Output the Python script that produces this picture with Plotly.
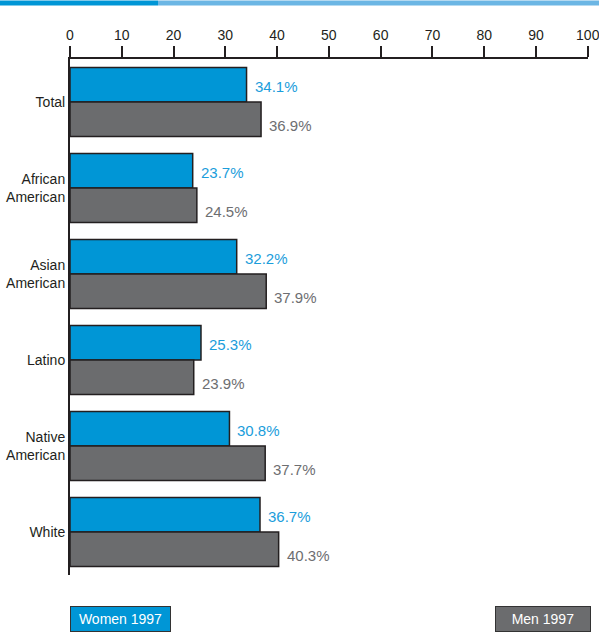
import plotly.graph_objects as go

categories = ["Total", "African<br>American", "Asian<br>American", "Latino", "Native<br>American", "White"]
women_1997 = [34.1, 23.7, 32.2, 25.3, 30.8, 36.7]
men_1997 = [36.9, 24.5, 37.9, 23.9, 37.7, 40.3]
x_ticks = [0, 10, 20, 30, 40, 50, 60, 70, 80, 90, 100]

BLUE = "#0096d6"
GRAY = "#6b6c6e"
BLUE_TXT = "#1b9ddb"
GRAY_TXT = "#6d6e71"
DARK = "#231f20"
FONT = "Liberation Sans Narrow, Arial Narrow, Liberation Sans, Arial, sans-serif"

W, H = 599, 635
ML, MR, MT, MB = 70, 11, 58.5, 59.5
PW = W - ML - MR
PH = H - MT - MB


def px_x(p):
    return (p - ML) / PW


def px_y(p):
    return (H - MB - p) / PH


fig = go.Figure()
fig.add_trace(go.Bar(y=categories, x=women_1997, orientation="h", name="Women 1997",
                     marker=dict(color=BLUE, line=dict(color=DARK, width=1.5))))
fig.add_trace(go.Bar(y=categories, x=men_1997, orientation="h", name="Men 1997",
                     marker=dict(color=GRAY, line=dict(color=DARK, width=1.5))))

annotations = []
for i, (w, m) in enumerate(zip(women_1997, men_1997)):
    annotations.append(dict(x=w, y=i - 0.2, xref="x", yref="y", text=f"{w}%",
                            showarrow=False, xanchor="left", xshift=6, yshift=-2,
                            font=dict(family=FONT, size=15, color=BLUE_TXT)))
    annotations.append(dict(x=m, y=i + 0.2, xref="x", yref="y", text=f"{m}%",
                            showarrow=False, xanchor="left", xshift=6, yshift=-6,
                            font=dict(family=FONT, size=15, color=GRAY_TXT)))

annotations.append(dict(x=px_x(70), y=px_y(620), xref="paper", yref="paper",
                        text="&nbsp;Women 1997&nbsp;", showarrow=False, xanchor="left", yanchor="middle",
                        font=dict(family=FONT, size=14, color="white"),
                        bgcolor=BLUE, bordercolor="#333", borderwidth=1, borderpad=4))
annotations.append(dict(x=px_x(591), y=px_y(620), xref="paper", yref="paper",
                        text="&nbsp;&nbsp;&nbsp;Men 1997&nbsp;&nbsp;&nbsp;", showarrow=False,
                        xanchor="right", yanchor="middle",
                        font=dict(family=FONT, size=14, color="white"),
                        bgcolor=GRAY, bordercolor="#333", borderwidth=1, borderpad=4))

shapes = [
    dict(type="rect", xref="paper", yref="paper", x0=px_x(0), x1=px_x(158),
         y0=px_y(5), y1=px_y(0), fillcolor="#0096d6", line=dict(width=0), layer="above"),
    dict(type="rect", xref="paper", yref="paper", x0=px_x(158), x1=px_x(599),
         y0=px_y(5), y1=px_y(0), fillcolor="#6cb6e4", line=dict(width=0), layer="above"),
]

fig.update_layout(
    width=W, height=H,
    margin=dict(l=ML, r=MR, t=MT, b=MB, autoexpand=False),
    paper_bgcolor="white", plot_bgcolor="white",
    barmode="group", bargap=0.2, bargroupgap=0,
    showlegend=False,
    font=dict(family=FONT, size=14, color=DARK),
    annotations=annotations,
    shapes=shapes,
    xaxis=dict(side="top", range=[0, 100.05], tickvals=x_ticks, ticktext=[str(t) for t in x_ticks],
               showline=True, linewidth=2, linecolor=DARK, ticks="outside", ticklen=11,
               tickwidth=2, tickcolor=DARK, showgrid=False, zeroline=False, automargin=False,
               ticklabeloverflow="allow",
               tickfont=dict(family=FONT, size=14, color=DARK)),
    yaxis=dict(type="category", autorange="reversed", showline=True, linewidth=2,
               linecolor=DARK, ticks="", showgrid=False, zeroline=False, automargin=False,
               tickfont=dict(family=FONT, size=14, color=DARK)),
)

fig.write_html("out.html", config={"displayModeBar": False},
               post_script="document.body.style.margin='0';document.body.style.overflow='hidden';")
